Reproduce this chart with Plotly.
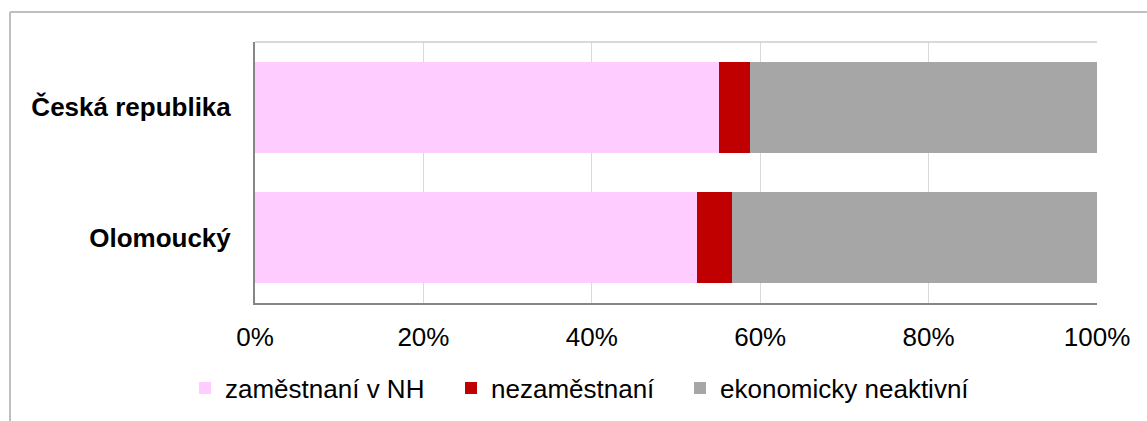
import plotly.graph_objects as go

categories = ["Česká republika", "Olomoucký"]
series_names = ["zaměstnaní v NH", "nezaměstnaní", "ekonomicky neaktivní"]
employed = [55.1, 52.5]
unemployed = [3.7, 4.2]
inactive = [41.2, 43.3]
colors = ["#FFCCFF", "#C00000", "#A6A6A6"]
tick_vals = [0, 20, 40, 60, 80, 100]
tick_text = ["0%", "20%", "40%", "60%", "80%", "100%"]

FONT = "Liberation Sans, Arial, sans-serif"

fig = go.Figure()
legend_ids = ["legend", "legend2", "legend3"]
for name, vals, col, lg in zip(series_names, [employed, unemployed, inactive], colors, legend_ids):
    fig.add_trace(go.Bar(
        y=categories, x=vals, name=name, orientation="h",
        marker=dict(color=col, line=dict(width=0)),
        legend=lg, showlegend=True,
    ))

W, H = 1147, 421
L, R, T, B = 255, 50, 42, 118
pw = W - L - R
ph = H - T - B

def px_to_paper_x(px):
    return (px - L) / pw

def px_to_paper_y(py):
    return (H - B - py) / ph

leg_common = dict(
    orientation="h", yanchor="middle", xanchor="left",
    xref="container", yref="container",
    font=dict(family=FONT, size=26, color="#000000"),
    bgcolor="rgba(0,0,0,0)", borderwidth=0,
)
legend_text_starts = [226, 492, 721]
leg_y = (H - 388) / H

fig.update_layout(
    width=W, height=H,
    margin=dict(l=L, r=R, t=T, b=B, pad=0),
    paper_bgcolor="white", plot_bgcolor="white",
    barmode="stack", bargap=0.306,
    showlegend=True,
    font=dict(family=FONT, size=26, color="#000000"),
    legend=dict(**leg_common, x=(legend_text_starts[0] - 41) / W, y=leg_y),
    legend2=dict(**leg_common, x=(legend_text_starts[1] - 41) / W, y=leg_y, visible=True),
    legend3=dict(**leg_common, x=(legend_text_starts[2] - 41) / W, y=leg_y, visible=True),
    xaxis=dict(
        range=[0, 100], tickvals=tick_vals, ticktext=tick_text,
        showgrid=True, gridcolor="#D9D9D9", gridwidth=1,
        showline=True, linecolor="#868686", linewidth=2,
        zeroline=False, ticks="", ticklabelstandoff=10,
        tickfont=dict(family=FONT, size=26, color="#000000"),
        fixedrange=True,
    ),
    yaxis=dict(
        autorange="reversed", showgrid=False,
        showline=True, linecolor="#868686", linewidth=2,
        ticks="", ticklabelstandoff=17,
        tickfont=dict(family=FONT, size=26, color="#000000", weight="bold"),
        fixedrange=True,
    ),
    shapes=[
        # plot area top border
        dict(type="line", xref="paper", yref="paper", x0=0, x1=1, y0=1, y1=1,
             line=dict(color="#D9D9D9", width=2)),
        # chart outer frame (left and top edges)
        dict(type="line", xref="paper", yref="paper",
             x0=px_to_paper_x(10), x1=px_to_paper_x(10),
             y0=px_to_paper_y(12), y1=px_to_paper_y(430),
             line=dict(color="#BFBFBF", width=2)),
        dict(type="line", xref="paper", yref="paper",
             x0=px_to_paper_x(10), x1=px_to_paper_x(1160),
             y0=px_to_paper_y(12), y1=px_to_paper_y(12),
             line=dict(color="#BFBFBF", width=2)),
    ],
)

fig.write_html("out.html", config={"displayModeBar": False, "staticPlot": True})

# remove the default page margin so the figure sits at the window's top-left corner
with open("out.html", "r", encoding="utf-8") as f:
    html = f.read()
html = html.replace("<head>", "<head><style>html,body{margin:0;padding:0;overflow:hidden;}</style>", 1)
with open("out.html", "w", encoding="utf-8") as f:
    f.write(html)
